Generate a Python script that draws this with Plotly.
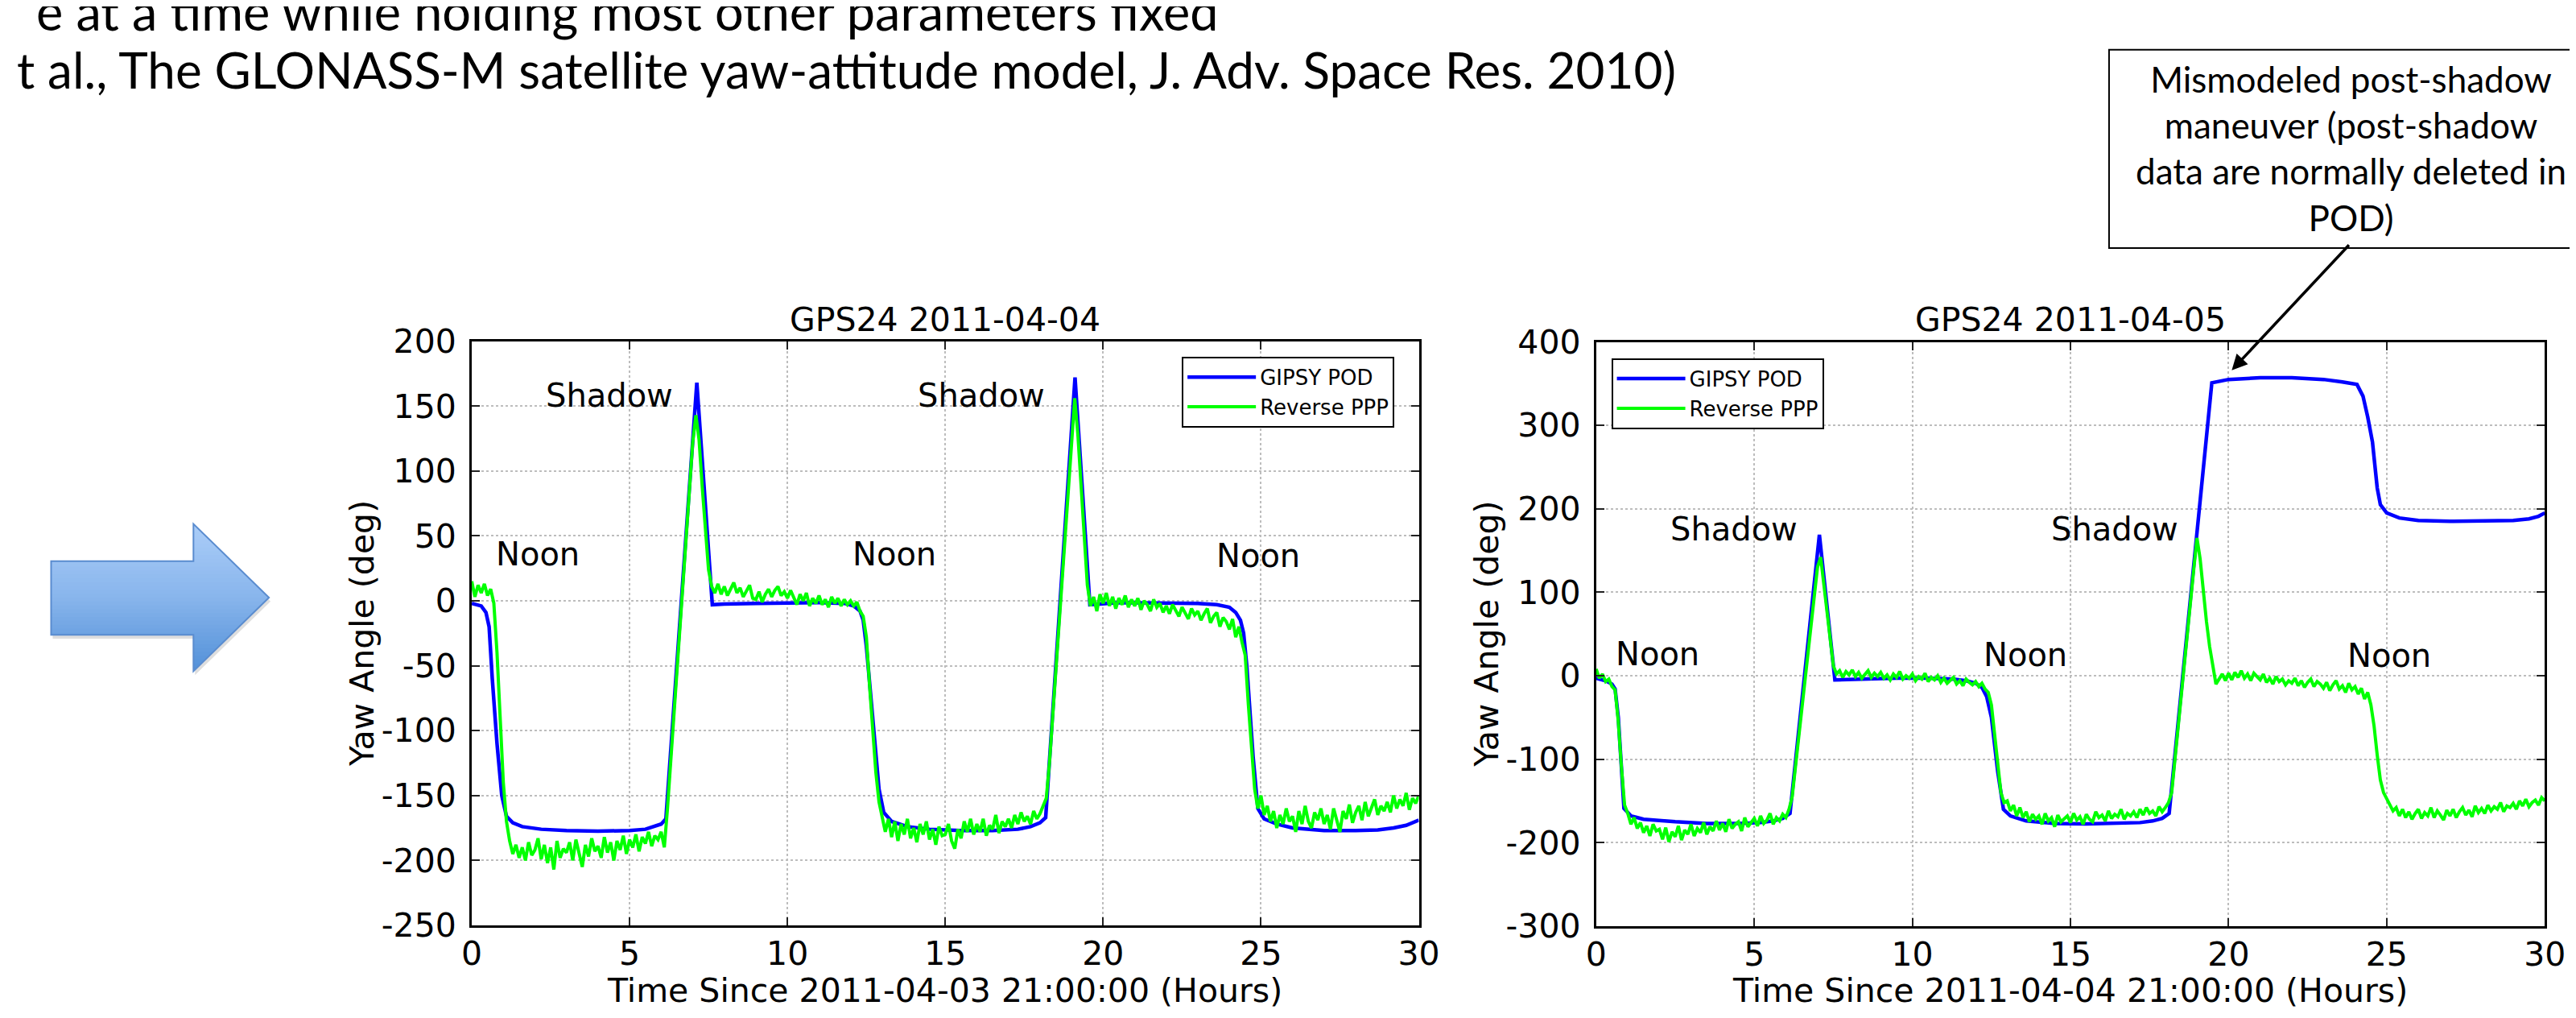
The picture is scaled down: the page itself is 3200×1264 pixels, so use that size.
import plotly.graph_objects as go

# ---------------- data ----------------
X_TICKS = [0, 5, 10, 15, 20, 25, 30]
X_TICK_TEXT = ["0", "5", "10", "15", "20", "25", "30"]
LEFT_Y_TICKS = [200, 150, 100, 50, 0, -50, -100, -150, -200, -250]
LEFT_Y_TICK_TEXT = ["200", "150", "100", "50", "0", "-50", "-100", "-150", "-200", "-250"]
RIGHT_Y_TICKS = [400, 300, 200, 100, 0, -100, -200, -300]
RIGHT_Y_TICK_TEXT = ["400", "300", "200", "100", "0", "-100", "-200", "-300"]

# sample times of the Reverse PPP series (hours, every 0.1 h)
PPP_TIME = [round(i * 0.1, 1) for i in range(301)]

# GPS24 2011-04-04 : GIPSY POD (smooth model)
LEFT_POD_X = [0, 0.3, 0.45, 0.55, 0.65, 0.8, 0.95, 1.1, 1.3, 1.6,
              2.2, 3, 4, 5, 5.5, 5.8, 6.0, 6.15, 7.13, 7.62,
              8, 9, 10, 11, 11.8, 12.1, 12.3, 12.4, 12.5, 12.7,
              12.9, 13.05, 13.3, 13.8, 14.5, 15.5, 16.5, 17.3, 17.7, 18.0,
              18.18, 19.11, 19.58, 20.5, 22, 23, 23.6, 24.0, 24.2, 24.35,
              24.45, 24.55, 24.75, 24.9, 25.1, 25.5, 26, 27, 28, 28.7,
              29.2, 29.6, 30]
LEFT_POD_Y = [-2, -4, -9, -20, -60, -110, -150, -166, -171, -174,
              -176, -177, -177.5, -177, -176, -174, -172, -168, 168, -3,
              -2.5, -2, -1.5, -1.5, -2, -4, -8, -15, -35, -90,
              -145, -163, -170, -174, -176, -177, -177, -176, -174, -171,
              -167, 172, -3, -1.5, -1.5, -2, -3, -5, -9, -15,
              -25, -50, -120, -160, -168, -172, -175, -177, -177, -176.5,
              -175, -173, -169]

# GPS24 2011-04-04 : Reverse PPP (0.1 h samples)
LEFT_PPP_Y = [
    15, 3, 12, 6, 13, 4, 9, -2, -40, -95,
    -140, -170, -185, -195, -188, -198, -190, -200, -186, -196,
    -192, -183, -199, -188, -202, -190, -207, -185, -198, -191,
    -194, -186, -200, -184, -196, -205, -188, -197, -183, -193,
    -189, -198, -182, -194, -186, -200, -185, -192, -181, -195,
    -184, -190, -180, -193, -182, -187, -178, -189, -181, -184,
    -178, -190, -160, -124, -89, -53, -17, 18, 54, 90,
    122, 143, 124, 88, 54, 24, 11, 6, 13, 5,
    11, 4, 9, 14, 6, 10, 3, 8, 12, 2,
    1, 7, -1, 5, 9, 3, 8, 11, 4, 7,
    2, 8, 3, -3, 5, 0, 6, -4, 2, -2,
    4, -3, 1, -5, 3, -2, 2, -4, 1, -3,
    0, -4, -1, -8, -12, -28, -65, -100, -132, -155,
    -168, -178, -168, -182, -170, -185, -172, -180, -168, -183,
    -175, -186, -172, -180, -170, -184, -176, -188, -174, -181,
    -180, -172, -185, -191, -176, -183, -170, -178, -168, -180,
    -172, -178, -168, -181, -173, -176, -165, -179, -170, -174,
    -168, -175, -165, -172, -163, -170, -166, -172, -162, -168,
    -164, -158, -152, -125, -90, -55, -20, 15, 50, 85,
    120, 156, 128, 88, 48, 12, -4, 3, -8, 5,
    -2, 6, -4, 3, -6, 2, -3, 4, -5, 1,
    -4, 2, -7, 0, -3, -8, 1, -5, -2, -9,
    -4, -10, -3, -8, -12, -5, -9, -14, -6, -11,
    -8, -15, -10, -6, -17, -12, -9, -20, -13, -16,
    -22, -14, -28, -20, -32, -42, -80, -115, -145, -160,
    -150, -165, -158, -170, -162, -175, -165, -172, -160, -170,
    -166, -178, -162, -172, -158, -170, -175, -163, -169, -160,
    -172, -165, -176, -160, -170, -178, -162, -168, -157, -171,
    -163, -158, -169, -155, -166, -160, -153, -165, -158, -162,
    -155, -163, -150, -160, -153, -158, -148, -161, -152, -156,
    -150]

# GPS24 2011-04-05 : GIPSY POD (smooth model)
RIGHT_POD_X = [0, 0.3, 0.5, 0.6, 0.7, 0.8, 0.88, 1.1, 1.5, 2.5,
               3.5, 4.5, 5.2, 5.6, 5.9, 6.13, 7.06, 7.55, 8.5, 9.5,
               10.5, 11.3, 11.7, 12.0, 12.2, 12.35, 12.5, 12.7, 12.88, 13.1,
               13.6, 14.5, 15.5, 16.5, 17.2, 17.6, 17.9, 18.12, 19.47, 20,
               21, 22, 23, 23.6, 24.06, 24.25, 24.4, 24.55, 24.7, 24.8,
               25.0, 25.4, 26, 27, 28, 29, 29.5, 29.8, 30]
RIGHT_POD_Y = [-3, -6, -10, -16, -50, -120, -159, -168, -172, -175,
               -177, -177, -176, -174, -171, -165, 169, -5, -4, -3,
               -3, -4, -6, -9, -14, -25, -50, -115, -160, -168,
               -174, -177, -177.5, -177, -176, -174, -171, -165, 351, 355,
               357, 357, 355, 352, 349, 335, 310, 280, 225, 205,
               195, 189, 186, 185, 185, 186, 188, 191, 195]

# GPS24 2011-04-05 : Reverse PPP (0.1 h samples)
RIGHT_PPP_Y = [
    8, -3, 2, -7, -4, -13, -17, -55, -110, -155,
    -165, -178, -170, -183, -176, -188, -180, -192, -178, -186,
    -184, -196, -182, -199, -187, -193, -180, -197, -185, -190,
    -178, -192, -183, -188, -176, -190, -181, -186, -174, -185,
    -177, -187, -172, -183, -178, -175, -186, -170, -181, -176,
    -171, -180, -168, -177, -173, -165, -178, -170, -174, -166,
    -170, -160, -145, -110, -75, -38, -3, 32, 66, 100,
    130, 142, 110, 75, 40, 12, 2, 6, -2, 5,
    1, 7, -1, 4, -3, 2, 6, -2, 3, -1,
    4, -3, 1, -5, 2, -2, 5, -4, 0, -3,
    2, -6, -1, -4, 3, -7, -2, -5, 0, -8,
    -3, -9, -5, -2, -10, -6, -12, -4, -8, -11,
    -7, -13, -9, -16, -20, -35, -70, -110, -140, -152,
    -150, -162, -155, -168, -158, -170, -163, -175, -166, -172,
    -168, -178, -165, -174, -170, -181, -167, -175, -171, -168,
    -176, -165, -173, -169, -178, -166, -172, -175, -163, -170,
    -167, -174, -162, -171, -166, -169, -160, -172, -165, -168,
    -163, -170, -160, -167, -158, -165, -162, -168, -157, -163,
    -158, -152, -140, -100, -62, -25, 15, 50, 90, 128,
    165, 140, 100, 65, 35, 10, -10, -4, 2, -6,
    3, -5, 4, -2, 6, -3, 2, -6, 3, -1,
    -5, 2, -8, -3, -10, -1, -7, -4, -11, -6,
    -9, -3, -12, -6, -14, -8, -4, -13, -7, -10,
    -15, -8, -18, -11, -6, -16, -12, -20, -9, -17,
    -13, -22, -15, -28, -20, -35, -60, -95, -125, -140,
    -148, -155, -162, -158, -168, -160, -170, -163, -172, -165,
    -160, -171, -164, -168, -158, -170, -162, -167, -173, -161,
    -168, -160, -170, -163, -158, -167, -161, -169, -156, -164,
    -159, -165, -155, -162, -157, -160, -152, -163, -156, -158,
    -153, -160, -150, -156, -148, -157, -152, -149, -155, -146,
    -150]

LEFT_LABELS = [("Shadow", 4.36, 158), ("Shadow", 16.13, 158),
               ("Noon", 2.1, 36), ("Noon", 13.38, 36), ("Noon", 24.92, 35)]
RIGHT_LABELS = [("Shadow", 4.36, 176), ("Shadow", 16.4, 176),
                ("Noon", 1.93, 26), ("Noon", 13.58, 25), ("Noon", 25.09, 24)]

# ---------------- layout helpers ----------------
W, H = 3200, 1264


def px(x):
    return x / W


def py(y):
    return 1 - y / H


PLOT_FONT = "DejaVu Sans"
SLIDE_FONT = "Lato, Carlito, Liberation Sans, sans-serif"
BLUE = "#0000ff"
GREEN = "#00ff00"

fig = go.Figure()

fig.add_trace(go.Scatter(x=LEFT_POD_X, y=LEFT_POD_Y, mode="lines", name="GIPSY POD",
                         line=dict(color=BLUE, width=4.5), xaxis="x", yaxis="y",
                         legend="legend"))
fig.add_trace(go.Scatter(x=PPP_TIME, y=LEFT_PPP_Y, mode="lines", name="Reverse PPP",
                         line=dict(color=GREEN, width=4), xaxis="x", yaxis="y",
                         legend="legend"))
fig.add_trace(go.Scatter(x=RIGHT_POD_X, y=RIGHT_POD_Y, mode="lines", name="GIPSY POD",
                         line=dict(color=BLUE, width=4.5), xaxis="x2", yaxis="y2",
                         legend="legend2"))
fig.add_trace(go.Scatter(x=PPP_TIME, y=RIGHT_PPP_Y, mode="lines", name="Reverse PPP",
                         line=dict(color=GREEN, width=4), xaxis="x2", yaxis="y2",
                         legend="legend2"))

axis_common = dict(
    showline=True, linecolor="black", linewidth=3, mirror="ticks",
    ticks="inside", ticklen=10, tickwidth=2, tickcolor="#222222",
    showgrid=True, gridcolor="#bdbdbd", griddash="dot", gridwidth=1.5,
    zeroline=False, tickfont=dict(family=PLOT_FONT, size=41, color="black"),
    fixedrange=True,
)

legend_common = dict(xanchor="left", yanchor="top", bgcolor="white",
                     bordercolor="black", borderwidth=2,
                     font=dict(family=PLOT_FONT, size=26, color="black"),
                     itemwidth=85, tracegroupgap=0)

fig.update_layout(
    width=W, height=H,
    margin=dict(l=0, r=0, t=0, b=0),
    paper_bgcolor="white", plot_bgcolor="white",
    hovermode=False,
    font=dict(family=PLOT_FONT, color="black"),
    xaxis=dict(domain=[px(572), px(1763)], range=[0, 30], anchor="y",
               tickvals=X_TICKS, ticktext=X_TICK_TEXT, ticklabelstandoff=-3, **axis_common),
    yaxis=dict(domain=[py(1161), py(407)], range=[-250, 200], anchor="x",
               tickvals=LEFT_Y_TICKS, ticktext=LEFT_Y_TICK_TEXT, ticklabelstandoff=8,
               **axis_common),
    xaxis2=dict(domain=[px(1986), px(3179)], range=[0, 30], anchor="y2",
                tickvals=X_TICKS, ticktext=X_TICK_TEXT, ticklabelstandoff=-3, **axis_common),
    yaxis2=dict(domain=[py(1162), py(408)], range=[-300, 400], anchor="x2",
                tickvals=RIGHT_Y_TICKS, ticktext=RIGHT_Y_TICK_TEXT, ticklabelstandoff=8,
                **axis_common),
    legend=dict(x=px(1465), y=py(427), **legend_common),
    legend2=dict(x=px(2005), y=py(429), **legend_common),
)

annotations = []


def paper_text(text, x, y, size, family=PLOT_FONT, xanchor="center", yanchor="middle",
               angle=0, align="center"):
    annotations.append(dict(text=text, x=x, y=y, xref="paper", yref="paper",
                            xanchor=xanchor, yanchor=yanchor, showarrow=False,
                            textangle=angle, align=align,
                            font=dict(family=family, size=size, color="black")))


# subplot titles and axis titles
paper_text("GPS24 2011-04-04", px(1167), py(379), 41)
paper_text("GPS24 2011-04-05", px(2582), py(379), 41)
paper_text("Time Since 2011-04-03 21:00:00 (Hours)", px(1167), py(1245), 41)
paper_text("Time Since 2011-04-04 21:00:00 (Hours)", px(2582), py(1245), 41)
paper_text("Yaw Angle (deg)", px(435), py(784), 41, angle=-90)
paper_text("Yaw Angle (deg)", px(1849), py(785), 41, angle=-90)

# in-plot labels
for txt, xv, yv in LEFT_LABELS:
    annotations.append(dict(text=txt, x=xv, y=yv, xref="x", yref="y", showarrow=False,
                            xanchor="center", yanchor="middle",
                            font=dict(family=PLOT_FONT, size=40, color="black")))
for txt, xv, yv in RIGHT_LABELS:
    annotations.append(dict(text=txt, x=xv, y=yv, xref="x2", yref="y2", showarrow=False,
                            xanchor="center", yanchor="middle",
                            font=dict(family=PLOT_FONT, size=40, color="black")))

# slide text at the top (partly cut off by the page edge, as in the slide)
paper_text("e at a time while holding most other parameters fixed",
           px(1512), py(-19), 63, family=SLIDE_FONT, xanchor="right")
paper_text("t al., The GLONASS-M satellite yaw-attitude model, J. Adv. Space Res. 2010)",
           px(2088), py(56), 62, family=SLIDE_FONT, xanchor="right")

# callout text
paper_text("Mismodeled post-shadow<br>maneuver (post-shadow<br>data are normally deleted in<br>POD)",
           px(2935), py(158), 44, family=SLIDE_FONT)

# callout arrow pointing at the mismodeled maneuver
annotations.append(dict(text="", x=20.1, y=366, xref="x2", yref="y2",
                        showarrow=True, ax=147, ay=-157, axref="pixel", ayref="pixel",
                        arrowhead=2, arrowsize=1.1, arrowwidth=3.5, arrowcolor="black"))

fig.update_layout(annotations=annotations)

# ---------------- decorative shapes ----------------
shapes = [
    dict(type="rect", xref="paper", yref="paper",
         x0=px(2631), x1=px(3260), y0=py(287), y1=py(31),
         line=dict(color="black", width=2), fillcolor="white", layer="below"),
]

# big blue block arrow (slide decoration), filled with a vertical gradient made of bands
ARROW_PTS = [(43, 691), (222, 691), (222, 643), (317, 738), (222, 833), (222, 786), (43, 786)]


def to_path(pts):
    return "M " + " L ".join(f"{px(a):.5f},{py(b):.5f}" for a, b in pts) + " Z"


def _cross(p, q, yc):
    t = (yc - p[1]) / (q[1] - p[1])
    return (p[0] + t * (q[0] - p[0]), yc)


def clip_half(poly, yc, keep_ge):
    out = []
    for i in range(len(poly)):
        cur, prev = poly[i], poly[i - 1]
        cin = cur[1] >= yc if keep_ge else cur[1] <= yc
        pin = prev[1] >= yc if keep_ge else prev[1] <= yc
        if cin:
            if not pin:
                out.append(_cross(prev, cur, yc))
            out.append(cur)
        elif pin:
            out.append(_cross(prev, cur, yc))
    return out


def mix(c0, c1, t):
    a = [int(c0[i:i + 2], 16) for i in (1, 3, 5)]
    b = [int(c1[i:i + 2], 16) for i in (1, 3, 5)]
    return "rgb({},{},{})".format(*[round(a[k] + (b[k] - a[k]) * t) for k in range(3)])


# soft shadow
shapes.append(dict(type="path", xref="paper", yref="paper",
                   path=to_path([(a + 2, b + 5) for a, b in ARROW_PTS]),
                   fillcolor="rgba(0,0,0,0.13)", line=dict(width=0)))
TOP_Y, BOT_Y, NBANDS = 643, 833, 38
for k in range(NBANDS):
    y0 = TOP_Y + (BOT_Y - TOP_Y) * k / NBANDS
    y1 = TOP_Y + (BOT_Y - TOP_Y) * (k + 1) / NBANDS + 0.8
    band = clip_half(clip_half(ARROW_PTS, y0, True), y1, False)
    if len(band) < 3:
        continue
    t = (k + 0.5) / NBANDS
    col = mix("#abcdf8", "#88b5ec", t / 0.5) if t < 0.5 else mix("#88b5ec", "#5290d8", (t - 0.5) / 0.5)
    shapes.append(dict(type="path", xref="paper", yref="paper", path=to_path(band),
                       fillcolor=col, line=dict(width=0)))
shapes.append(dict(type="path", xref="paper", yref="paper", path=to_path(ARROW_PTS),
                   fillcolor="rgba(0,0,0,0)", line=dict(color="#5a8ccf", width=2)))

fig.update_layout(shapes=shapes)

fig.write_html("out.html")
